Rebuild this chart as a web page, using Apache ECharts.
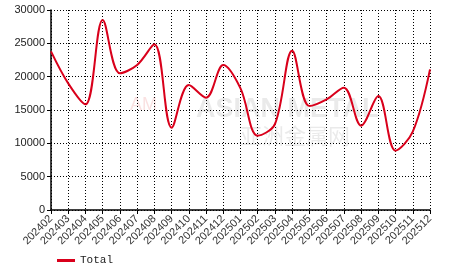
<!DOCTYPE html>
<html><head><meta charset="utf-8">
<script src="https://cdn.jsdelivr.net/npm/echarts@6/dist/echarts.min.js"></script>
<style>html,body{margin:0;padding:0;background:#fff}#c{width:466px;height:272px}</style>
</head><body><div id="c"></div>
<script>
const categories = ['202402','202403','202404','202405','202406','202407','202408','202409','202410','202411','202412','202501','202502','202503','202504','202505','202506','202507','202508','202509','202510','202511','202512'];
const totalValues = [23800,19000,15850,28500,20500,21750,24850,12350,18750,16850,21750,18250,11150,12900,23900,15600,16600,18350,12650,17100,8900,11750,21100];
const yTicks = [0,5000,10000,15000,20000,25000,30000];
const seriesName = 'Total';

const chart = echarts.init(document.getElementById('c'));
chart.setOption({
  animation:false,
  backgroundColor:'#fff',
  grid:{left:51,right:36,top:10,bottom:62},
  graphic:[
    {type:'text',left:196,top:96,z:-1,style:{text:'ASIAN METAL',font:'bold 27px Arial',fill:'rgba(160,160,160,0.22)'}},
    {type:'text',left:240,top:125,z:-1,style:{text:'亚洲金属网',font:'22px "Noto Sans CJK SC"',fill:'rgba(160,160,160,0.22)'}},
    {type:'text',left:130,top:96,z:-1,style:{text:'AM',font:'18px Arial',fill:'rgba(230,120,120,0.22)'}}
  ],
  legend:{bottom:1,left:52,itemWidth:18,itemHeight:3,icon:'rect',
    textStyle:{fontFamily:'Liberation Mono',fontSize:11,color:'#222'},data:[seriesName]},
  xAxis:{type:'category',data:categories,boundaryGap:false,
    axisLine:{lineStyle:{color:'#000',width:1.5}},
    axisTick:{show:true,length:4,lineStyle:{color:'#000'}},
    axisLabel:{rotate:45,fontSize:11,color:'#333',fontFamily:'Arial',margin:7,interval:0},
    splitLine:{show:true,lineStyle:{color:'#000',type:[1,2],width:1}}},
  yAxis:{type:'value',min:yTicks[0],max:yTicks[yTicks.length-1],interval:5000,
    axisLine:{show:true,lineStyle:{color:'#000',width:1.5}},
    axisTick:{show:true,length:4,lineStyle:{color:'#000'}},
    axisLabel:{fontSize:11,color:'#222',fontFamily:'Arial',margin:6,formatter:v=>String(v)},
    splitLine:{show:true,lineStyle:{color:'#000',type:[1,2],width:1}}},
  series:[{name:seriesName,type:'line',data:totalValues,smooth:0.35,showSymbol:false,
    lineStyle:{color:'#d9001b',width:2},itemStyle:{color:'#d9001b'}}]
});
</script></body></html>
